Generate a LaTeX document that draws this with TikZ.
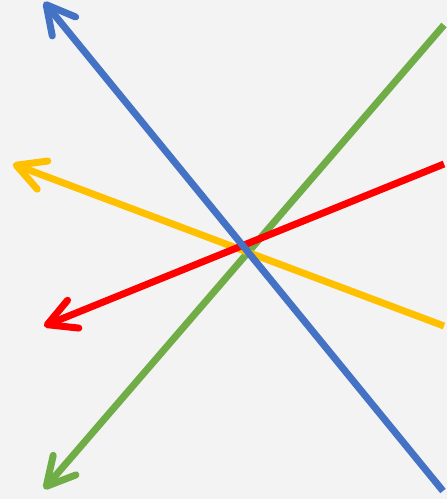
\documentclass[tikz,border=0pt]{standalone}
\usepackage{xcolor}
\usepackage{tikz}
\usetikzlibrary{arrows.meta}

\definecolor{bgGray}{RGB}{243,243,243}
\definecolor{officeBlue}{RGB}{68,114,196}
\definecolor{officeGreen}{RGB}{112,173,71}
\definecolor{officeGold}{RGB}{255,192,0}
\definecolor{officeRed}{RGB}{255,0,0}

\begin{document}
\begin{tikzpicture}[
    x=0.02cm, y=-0.02cm,
    ray/.style={
        line width=0.14cm,
        -{Straight Barb[length=0.56cm, width=0.6cm, round]}
    }
]

% background and bounding box
\fill[bgGray] (0,0) rectangle (447,499);
\useasboundingbox (0,0) rectangle (447,499);

% end points of the four rays (tail -> tip)
\coordinate (greenTail) at (444,25);
\coordinate (greenTip) at (44,489);
\coordinate (goldTail) at (444,326);
\coordinate (goldTip) at (13,164);
\coordinate (redTail) at (444,164);
\coordinate (redTip) at (44,326);
\coordinate (blueTail) at (443,491);
\coordinate (blueTip) at (44,2);

% rays
\draw[ray, officeGreen] (greenTail) -- (greenTip);
\draw[ray, officeGold] (goldTail) -- (goldTip);
\draw[ray, officeRed] (redTail) -- (redTip);
\draw[ray, officeBlue] (blueTail) -- (blueTip);

\end{tikzpicture}
\end{document}
